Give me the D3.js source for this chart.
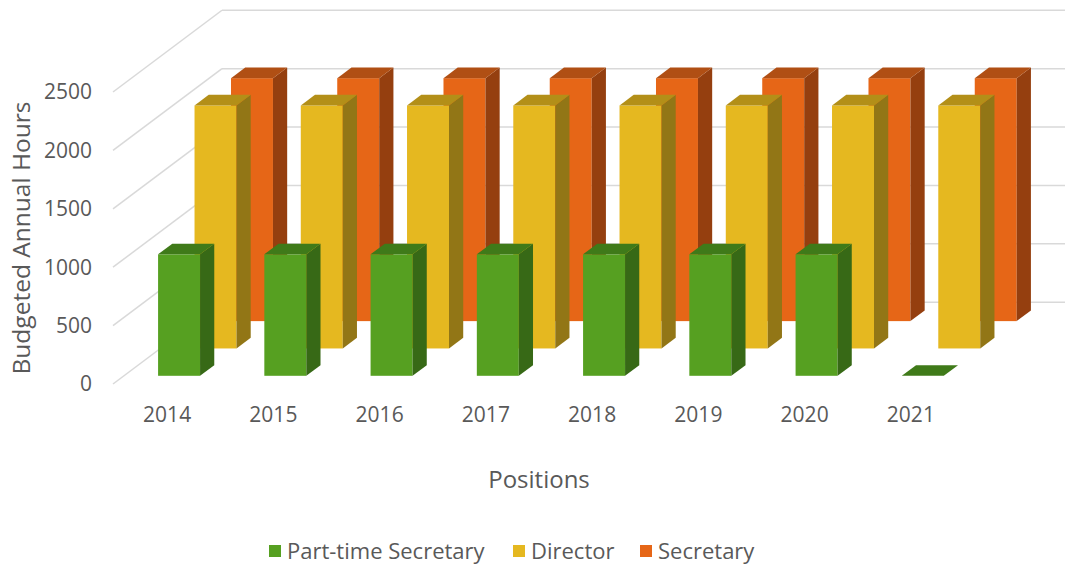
<!DOCTYPE html>
<html>
<head>
<meta charset="utf-8">
<script src="https://cdn.jsdelivr.net/npm/d3@7"></script>
<style>
  body { margin: 0; background: #fff; }
  svg text { font-family: "Open Sans", sans-serif; fill: #595959; }
</style>
</head>
<body>
<div id="chart"></div>
<script>
// data
var years = ["2014", "2015", "2016", "2017", "2018", "2019", "2020", "2021"];
var seriesNames = ["Part-time Secretary", "Director", "Secretary"];
var partTime = [1040, 1040, 1040, 1040, 1040, 1040, 1040, 0];
var director = [2080, 2080, 2080, 2080, 2080, 2080, 2080, 2080];
var secretary = [2080, 2080, 2080, 2080, 2080, 2080, 2080, 2080];
var yTicks = [0, 500, 1000, 1500, 2000, 2500];

var colors = {
    "Part-time Secretary": {front: "#56a021", side: "#376916", top: "#3f7a19"},
    "Director": {front: "#e5b820", side: "#927616", top: "#b38f18"},
    "Secretary": {front: "#e66617", side: "#953f0f", top: "#b04f14"}
};

var width = 1065, height = 565;
var x0 = 113, xEnd = 963;      // front plane of the floor
var depth = 109, slope = 0.75;  // oblique depth, drawn up and to the right

var svg = d3.select("#chart")
    .append("svg")
    .attr("width", width)
    .attr("height", height);

// scales
var x = d3.scaleBand().domain(years).range([x0, xEnd]);
var y = d3.scaleLinear().domain([0, 2500]).range([384, 92]);
var z = d3.scaleBand().domain(seriesNames).range([0, depth])
    .paddingInner(0.61).paddingOuter(0.3);
var barW = x.bandwidth() * 0.395;
var dd = z.bandwidth();

// gridlines: side wall + back wall
var grid = svg.append("g")
    .attr("stroke", "#d9d9d9")
    .attr("stroke-width", 1.5)
    .attr("fill", "none");
grid.selectAll(".side")
    .data(yTicks)
    .enter()
    .append("line")
    .attr("x1", x0)
    .attr("y1", d => y(d))
    .attr("x2", x0 + depth)
    .attr("y2", d => y(d) - depth * slope);
grid.selectAll(".back")
    .data(yTicks)
    .enter()
    .append("line")
    .attr("x1", x0 + depth)
    .attr("y1", d => y(d) - depth * slope)
    .attr("x2", xEnd + depth)
    .attr("y2", d => y(d) - depth * slope);

// build bar list, back row first
var rows = [
    {name: "Secretary", values: secretary},
    {name: "Director", values: director},
    {name: "Part-time Secretary", values: partTime}
];
var bars = [];
rows.forEach(r => {
    r.values.forEach((v, i) => {
        var off = z(r.name);
        var L = x(years[i]) + (x.bandwidth() - barW) / 2 + 2 + off;
        var B = y(0) - off * slope;
        var T = y(v) - off * slope;
        bars.push({name: r.name, L: L, B: B, T: T});
    });
});

var pts = a => a.map(p => p.join(",")).join(" ");

var g = svg.append("g");
var bar = g.selectAll(".bar")
    .data(bars)
    .enter()
    .append("g");

// front face
bar.append("rect")
    .attr("x", d => d.L)
    .attr("y", d => d.T)
    .attr("width", barW)
    .attr("height", d => d.B - d.T)
    .attr("fill", d => colors[d.name].front);

// side face
bar.append("polygon")
    .attr("points", d => pts([
        [d.L + barW, d.T], [d.L + barW + dd, d.T - dd * slope],
        [d.L + barW + dd, d.B - dd * slope], [d.L + barW, d.B]]))
    .attr("fill", d => colors[d.name].side);

// top face
bar.append("polygon")
    .attr("points", d => pts([
        [d.L, d.T], [d.L + barW, d.T],
        [d.L + barW + dd, d.T - dd * slope], [d.L + dd, d.T - dd * slope]]))
    .attr("fill", d => colors[d.name].top);

// y tick labels
svg.selectAll(".ytick")
    .data(yTicks)
    .enter()
    .append("text")
    .attr("x", 92)
    .attr("y", d => y(d))
    .attr("dy", "0.35em")
    .attr("text-anchor", "end")
    .style("font-size", "21px")
    .text(d => d);

// category labels
svg.selectAll(".xtick")
    .data(years)
    .enter()
    .append("text")
    .attr("x", d => x(d) + x.bandwidth() / 2 + 1)
    .attr("y", 415)
    .attr("dy", "0.35em")
    .attr("text-anchor", "middle")
    .style("font-size", "21px")
    .text(d => d);

// axis titles
svg.append("text")
    .attr("x", 539)
    .attr("y", 480)
    .attr("dy", "0.35em")
    .attr("text-anchor", "middle")
    .style("font-size", "24px")
    .text("Positions");

svg.append("text")
    .attr("transform", "translate(21,238) rotate(-90)")
    .attr("dy", "0.35em")
    .attr("text-anchor", "middle")
    .style("font-size", "24.5px")
    .text("Budgeted Annual Hours");

// legend
var legendX = [269, 513, 640];
var legend = svg.selectAll(".legend")
    .data(seriesNames)
    .enter()
    .append("g")
    .attr("transform", (d, i) => "translate(" + legendX[i] + ",551)");
legend.append("rect")
    .attr("x", 0)
    .attr("y", -6)
    .attr("width", 12)
    .attr("height", 12)
    .attr("fill", d => colors[d].front);
legend.append("text")
    .attr("x", 18)
    .attr("y", 0)
    .attr("dy", "0.35em")
    .style("font-size", "22px")
    .text(d => d);
</script>
</body>
</html>
